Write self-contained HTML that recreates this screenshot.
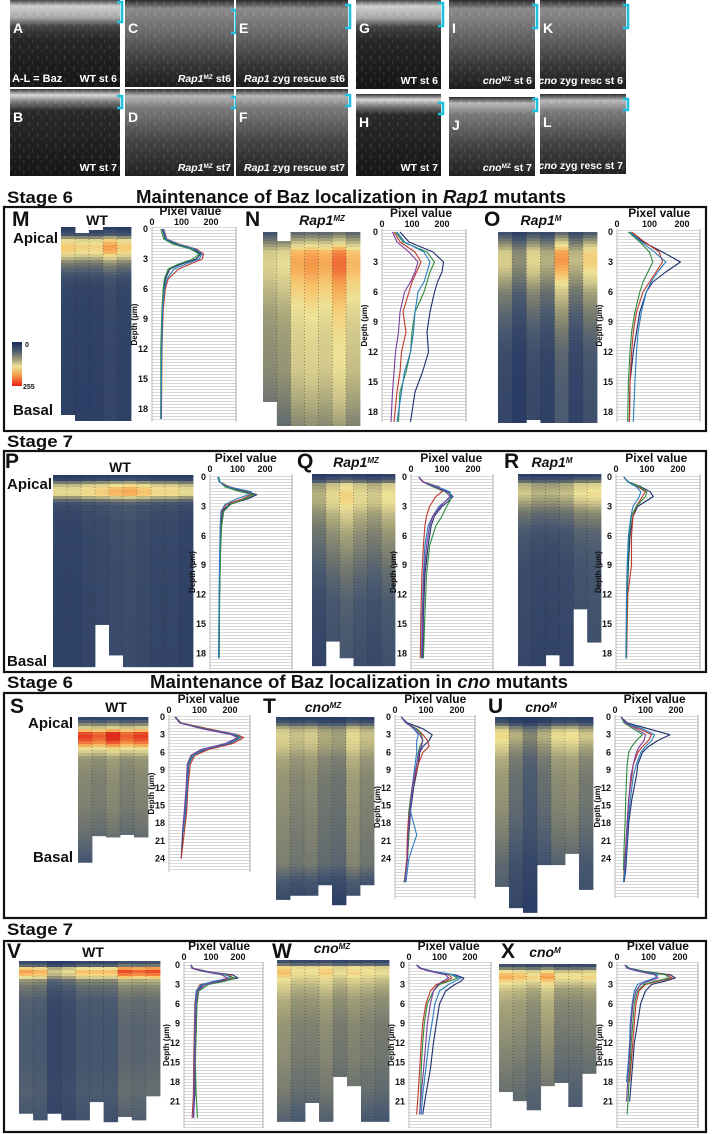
<!DOCTYPE html>
<html><head><meta charset="utf-8"><title>Baz localization figure</title>
<style>
html,body{margin:0;padding:0;background:#fff;}
svg{display:block;font-family:"Liberation Sans",Arial,sans-serif;}
</style></head>
<body>
<svg id="fig" width="712" height="1134" viewBox="0 0 712 1134" xmlns="http://www.w3.org/2000/svg">
<defs>
<linearGradient id="gWt1" x1="0" y1="0" x2="0" y2="1"><stop offset="0" stop-color="#444"/><stop offset="0.07" stop-color="#cfcfcf"/><stop offset="0.2" stop-color="#a8a8a8"/><stop offset="0.3" stop-color="#444"/><stop offset="0.45" stop-color="#272727"/><stop offset="1" stop-color="#151515"/></linearGradient>
<linearGradient id="gMut1" x1="0" y1="0" x2="0" y2="1"><stop offset="0" stop-color="#2a2a2a"/><stop offset="0.1" stop-color="#8c8c8c"/><stop offset="0.4" stop-color="#666"/><stop offset="0.7" stop-color="#3c3c3c"/><stop offset="1" stop-color="#1c1c1c"/></linearGradient>
<linearGradient id="gWt2" x1="0" y1="0" x2="0" y2="1"><stop offset="0" stop-color="#333"/><stop offset="0.07" stop-color="#d8d8d8"/><stop offset="0.15" stop-color="#777"/><stop offset="0.25" stop-color="#2a2a2a"/><stop offset="1" stop-color="#161616"/></linearGradient>
<linearGradient id="gMut2" x1="0" y1="0" x2="0" y2="1"><stop offset="0" stop-color="#2a2a2a"/><stop offset="0.08" stop-color="#b8b8b8"/><stop offset="0.22" stop-color="#7a7a7a"/><stop offset="0.6" stop-color="#444"/><stop offset="1" stop-color="#222"/></linearGradient>
<linearGradient id="gBar" x1="0" y1="0" x2="0" y2="1"><stop offset="0" stop-color="#16285a"/><stop offset="0.2" stop-color="#4a5a70"/><stop offset="0.4" stop-color="#a09e78"/><stop offset="0.55" stop-color="#ede296"/><stop offset="0.75" stop-color="#f5a04e"/><stop offset="1" stop-color="#e81e10"/></linearGradient>
<pattern id="speck" width="9" height="11" patternUnits="userSpaceOnUse"><rect x="1" y="1" width="1.5" height="4" fill="#fff" opacity="0.35"/><rect x="5" y="6" width="1.5" height="3" fill="#fff" opacity="0.25"/><rect x="7" y="2" width="1" height="2" fill="#000" opacity="0.3"/></pattern>
<pattern id="grid" width="10" height="3" patternUnits="userSpaceOnUse"><rect width="10" height="3" fill="#fff"/><rect y="2" width="10" height="0.8" fill="#cfcfcf"/></pattern>
</defs>
</svg>
<script>
// ===== Chart data =====
const M_depth=[0,1,1.5,2,2.5,3,3.5,4,5,6,8,12,19];
const M_s1=[35,45,80,140,165,150,100,60,45,40,35,32,30];
const M_s2=[40,50,90,150,175,170,130,90,55,45,38,34,32];
const M_s3=[30,40,70,130,160,140,90,55,42,38,34,30,30];
const M_s4=[38,48,85,145,170,160,115,75,50,42,36,33,31];
const M_heatDepth=[0,0.8,1.4,2,2.5,3,3.5,4,5,6,8,12,19.4];
const M_heatVal=[20,50,160,180,170,130,90,70,45,36,33,32,30];
const M_colScale=[1,0.95,0.95,1.15,1];
const M_colStart=[0,0.6,0.3,0,0];
const M_colEnd=[18.8,19.4,19.4,19.4,19.4];
const N_depth=[0,1,2,3,4,5,6,8,10,12,14,16,19];
const N_s1=[60,90,170,205,200,185,175,160,150,155,135,110,95];
const N_s2=[40,60,110,130,115,100,90,70,80,65,60,50,40];
const N_s3=[45,70,150,175,160,150,140,110,100,95,80,60,55];
const N_s4=[50,75,140,160,150,140,120,110,105,95,75,65,50];
const N_s5=[35,50,90,120,110,95,75,60,55,45,40,35,30];
const N_heatDepth=[0,1,2,3,4,5,6,8,10,12,14,17,19.4];
const N_heatVal=[60,120,190,200,195,180,170,150,140,135,130,110,90];
const N_colScale=[0.7,0.75,1,1.05,1,1.15,0.95];
const N_colStart=[0,0.9,0,0,0,0,0];
const N_colEnd=[17,19.4,19.4,19.4,19.4,19.4,19.4];
const O_depth=[0,1,2,3,4,5,6,8,10,12,15,19];
const O_s1=[40,80,140,195,150,110,90,70,60,50,40,38];
const O_s2=[45,85,130,140,120,100,80,60,50,45,40,38];
const O_s3=[35,70,100,110,95,80,70,55,45,40,35,33];
const O_s4=[40,75,115,150,125,105,90,75,65,60,55,50];
const O_heatDepth=[0,1,2,3,4,5,6,8,10,12,15,19.1];
const O_heatVal=[40,90,140,145,130,110,90,70,55,45,40,38];
const O_colScale=[0.95,0.65,1.0,0.8,1.45,0.85,1.2];
const O_colEnd=[19.1,19.1,18.8,19.1,19.1,19.1,19.1];
const P_depth=[0,0.5,1,1.5,1.8,2.2,2.8,3.5,5,8,12,18.5];
const P_s1=[30,35,60,130,170,140,70,45,40,38,35,33];
const P_s2=[30,35,70,140,150,120,60,42,38,36,34,32];
const P_s3=[32,36,55,110,160,130,75,50,42,38,35,33];
const P_s4=[28,33,65,150,140,100,55,40,37,35,33,31];
const P_heatDepth=[0,0.5,1,1.5,2,2.5,3,5,10,19.6];
const P_heatVal=[20,40,130,170,160,80,45,38,36,34];
const P_colScale=[0.9,0.9,1,1.05,1.15,1.2,1.1,1.0,1.0,0.9];
const P_colEnd=[19.6,19.6,19.6,15.3,18.4,19.6,19.6,19.6,19.6,19.6];
const Q_depth=[0,0.5,1,1.5,2,2.5,3,4,5,7,10,14,18.5];
const Q_s1=[25,40,80,120,135,120,100,75,65,55,45,40,38];
const Q_s2=[25,40,90,100,80,70,60,50,45,40,35,32,30];
const Q_s3=[25,38,70,110,130,125,115,100,80,60,50,45,40];
const Q_s4=[25,38,85,125,130,110,90,70,55,45,40,36,34];
const Q_s5=[25,38,75,115,125,110,95,70,60,50,42,38,36];
const Q_heatDepth=[0,0.7,1,2,3,4,6,8,10,13,19.6];
const Q_heatVal=[25,60,130,155,150,125,100,85,70,55,45];
const Q_colScale=[0.75,0.95,1.1,0.95,0.85,1.0];
const Q_colEnd=[19.6,17.1,18.8,19.6,19.6,19.6];
const R_depth=[0,0.5,1,1.5,2,2.5,3,4,6,9,12,18.5];
const R_s1=[25,40,80,110,120,95,70,55,45,40,36,34];
const R_s2=[25,38,70,95,85,75,65,55,50,50,38,34];
const R_s3=[25,40,75,100,95,80,65,50,42,38,35,33];
const R_s4=[25,38,65,80,75,65,55,48,40,36,34,32];
const R_heatDepth=[0,0.7,1,2,3,4,6,9,19.6];
const R_heatVal=[25,60,120,140,110,80,55,45,38];
const R_colScale=[0.95,0.85,0.85,0.9,1.1,1.15];
const R_colEnd=[19.6,19.6,18.5,19.6,13.8,17.2];
const S_depth=[0,1,2,3,3.5,4.5,5.5,6.5,8,12,16,19.5,24];
const S_s1=[20,35,110,210,235,200,120,80,65,60,55,45,40];
const S_s2=[20,40,130,225,245,210,130,85,70,62,58,50,40];
const S_s3=[22,38,120,215,230,190,110,75,62,58,52,48,null];
const S_s4=[20,36,115,220,235,195,115,80,64,60,54,46,null];
const S_s5=[20,35,110,205,225,185,105,72,60,56,50,44,null];
const S_heatDepth=[0,1,2,2.7,3.5,4.5,5.5,7,10,15,19,24.7];
const S_heatVal=[25,70,150,240,250,220,150,100,90,85,75,50];
const S_colScale=[1,0.95,1.05,0.95,1];
const S_colEnd=[24.7,20.2,20.4,20.0,20.4];
const T_depth=[0,1,2,3,4,5,6,8,12,16,20,24,28];
const T_s1=[20,40,90,120,110,90,80,75,60,50,45,40,30];
const T_s2=[20,35,70,90,105,110,90,75,55,45,40,38,30];
const T_s3=[20,35,70,85,90,80,75,70,55,45,45,40,30];
const T_s4=[20,38,60,75,70,70,70,65,55,50,70,45,35];
const T_s5=[20,35,65,80,90,85,78,70,55,48,42,40,32];
const T_heatDepth=[0,1,2,3,5,7,10,15,20,25,28,32];
const T_heatVal=[25,50,120,135,125,105,95,90,85,80,50,35];
const T_colScale=[1.05,0.95,1,0.85,0.8,1.1,0.95];
const T_colEnd=[31,30.3,30.3,28.5,31.9,30.3,28.5];
const U_depth=[0,1,2,3,4,5,6,8,10,14,18,22,26,28];
const U_s1=[20,40,110,180,140,110,90,75,70,55,45,40,35,30];
const U_s2=[20,35,80,120,110,90,75,60,55,45,40,35,30,28];
const U_s3=[20,30,60,90,70,55,45,40,38,35,33,30,28,null];
const U_s4=[20,35,90,130,120,100,85,70,60,50,42,38,32,28];
const U_s5=[20,35,70,100,95,80,70,60,52,45,40,36,30,null];
const U_heatDepth=[0,1,2,3,4,5,7,10,15,20,25,34];
const U_heatVal=[25,40,110,140,130,115,95,85,80,70,55,40];
const U_colScale=[1.2,0.85,0.65,0.85,1.1,1.15,0.95];
const U_colEnd=[28.8,32.4,33.2,25.1,25.1,23.2,29.3];
const V_depth=[0,0.5,1,1.5,2,2.5,3,4,6,10,15,20,23.5];
const V_s1=[25,30,80,180,200,140,70,50,45,45,40,40,35];
const V_s2=[25,35,90,170,180,120,60,45,40,38,36,35,30];
const V_s3=[25,30,70,150,190,150,90,55,48,45,42,45,50];
const V_s4=[25,32,85,160,170,110,65,45,42,40,38,37,34];
const V_s5=[25,30,75,140,160,130,80,50,45,42,40,38,36];
const V_heatDepth=[0,0.7,1,1.7,2.3,3,4,6,10,15,20,25];
const V_heatVal=[25,60,150,190,160,90,70,55,50,50,55,45];
const V_colScale=[1.1,1.05,0.7,0.8,1.0,1.0,1.0,1.3,1.25,1.3];
const V_colEnd=[23.5,24.5,23.5,24.5,24.5,21.7,24.8,24,24.5,20.8];
const W_depth=[0,0.5,1,1.5,2,2.5,3,4,6,9,12,16,20,23];
const W_s1=[25,40,80,150,180,170,150,120,100,90,80,70,55,45];
const W_s2=[25,35,70,130,140,120,90,70,55,45,40,35,30,25];
const W_s3=[25,35,75,140,160,130,100,80,60,50,45,40,38,35];
const W_s4=[25,38,80,145,170,150,130,100,85,75,65,55,45,40];
const W_s5=[25,36,72,120,130,110,95,80,70,60,55,48,40,35];
const W_heatDepth=[0,0.7,1,2,3,4,6,10,15,20,25];
const W_heatVal=[25,70,150,170,140,125,105,90,85,75,55];
const W_colScale=[1.1,0.95,0.95,1.05,0.9,1.0,0.95,0.9];
const W_colEnd=[24.9,24.9,22,24.9,18,19.4,24.9,24.9];
const X_depth=[0,0.5,1,1.5,2,2.5,3,4,6,9,12,15,18,21,23];
const X_s1=[25,40,90,170,185,150,110,90,75,65,55,50,45,40,null];
const X_s2=[25,35,80,160,175,130,90,70,60,55,50,45,40,null,null];
const X_s3=[25,38,85,155,165,120,85,65,55,50,45,42,38,35,32];
const X_s4=[25,35,75,130,120,90,65,55,48,42,40,36,30,null,null];
const X_s5=[25,32,70,120,130,100,75,60,50,45,42,38,34,30,null];
const X_heatDepth=[0,0.7,1.3,2,3,4,6,10,14,18,23];
const X_heatVal=[25,80,160,180,140,115,100,90,80,70,60];
const X_colScale=[1.1,1.05,0.95,1.15,0.9,0.9,0.95];
const X_colEnd=[19.7,21.1,22.5,18.8,18.3,22,16.9];

const NS='http://www.w3.org/2000/svg';
const svg=document.getElementById('fig');
function mk(tag,a,p){const e=document.createElementNS(NS,tag);for(const k in a)e.setAttribute(k,a[k]);(p||svg).appendChild(e);return e;}
function tx(s,a,p){const e=mk('text',a,p);e.textContent=s;return e;}
function interp(xs,ys,x){if(x<=xs[0])return ys[0];for(let i=1;i<xs.length;i++){if(x<=xs[i]){const t=(x-xs[i-1])/(xs[i]-xs[i-1]);return ys[i-1]+t*(ys[i]-ys[i-1]);}}return ys[ys.length-1];}
const cmStops=[0,30,55,80,105,130,155,180,205,230,255];
const cmCols=['#16285a','#2e4066','#4a5a70','#75796f','#a09e78','#cfc68a','#ede296','#f6c770','#f5a04e','#f06a35','#e02a1c'];
function hex2(h){return [parseInt(h.substr(1,2),16),parseInt(h.substr(3,2),16),parseInt(h.substr(5,2),16)];}
function cmap(v){v=Math.max(0,Math.min(255,v));let i=1;while(i<cmStops.length-1&&v>cmStops[i])i++;const t=(v-cmStops[i-1])/(cmStops[i]-cmStops[i-1]);const a=hex2(cmCols[i-1]),b=hex2(cmCols[i]);return 'rgb('+a.map((c,k)=>Math.round(c+t*(b[k]-c))).join(',')+')';}
const lineCols=['#1f2f6b','#c0392b','#2e8b3e','#2a7fc0','#7a3e9d'];

const micro=[
 {id:'A',x:10,y:0,w:110,h:87,g:'gWt1',cap:[['WT st 6',0]],br:[2,22]},
 {id:'C',x:125,y:0,w:109,h:87,g:'gMut1',cap:[['Rap1',1],['MZ',2],[' st6',0]],br:[10,33]},
 {id:'E',x:236,y:0,w:112,h:87,g:'gMut1',cap:[['Rap1',1],[' zyg rescue st6',0]],br:[5,28]},
 {id:'G',x:356,y:0,w:85,h:89,g:'gWt1',cap:[['WT st 6',0]],br:[3,26]},
 {id:'I',x:449,y:0,w:86,h:89,g:'gMut1',cap:[['cno',1],['MZ',2],[' st 6',0]],br:[5,28]},
 {id:'K',x:540,y:0,w:86,h:89,g:'gMut1',cap:[['cno',1],[' zyg resc st 6',0]],br:[5,28]},
 {id:'B',x:10,y:89,w:110,h:87,g:'gWt2',cap:[['WT st 7',0]],br:[96,108]},
 {id:'D',x:125,y:89,w:109,h:87,g:'gMut2',cap:[['Rap1',1],['MZ',2],[' st7',0]],br:[97,108]},
 {id:'F',x:236,y:89,w:112,h:87,g:'gMut2',cap:[['Rap1',1],[' zyg rescue st7',0]],br:[95,106]},
 {id:'H',x:356,y:94,w:85,h:82,g:'gWt2',cap:[['WT st 7',0]],br:[103,114]},
 {id:'J',x:449,y:97,w:86,h:79,g:'gMut2',cap:[['cno',1],['MZ',2],[' st 7',0]],br:[99,111]},
 {id:'L',x:540,y:94,w:86,h:80,g:'gMut2',cap:[['cno',1],[' zyg resc st 7',0]],br:[99,110]}
];
micro.forEach(m=>{
 const g=mk('g',{});
 
 
 mk('rect',{x:m.x,y:m.y,width:m.w,height:m.h,fill:'url(#'+m.g+')'},g);
 mk('rect',{x:m.x,y:m.y,width:m.w,height:m.h,fill:'url(#speck)',opacity:0.3},g);
 const lab=tx(m.id,{x:m.x+3,y:m.y+33,fill:'#fff','font-size':14,'font-weight':'bold'},g);
 
 
 const cap=tx('',{x:m.x+m.w-3,y:m.y+m.h-5,fill:'#fff','font-size':10.5,'font-weight':'bold','text-anchor':'end'},g);
 
 
 m.cap.forEach(c=>{const t=mk('tspan',{},cap);t.textContent=c[0];if(c[1]===1)t.setAttribute('font-style','italic');if(c[1]===2){t.setAttribute('font-size',6.5);t.setAttribute('baseline-shift','super');}});
 const bx=m.x+m.w;
 const br=mk('path',{d:'M'+(bx-3)+' '+m.br[0]+' H'+(bx+2)+' V'+m.br[1]+' H'+(bx-3),fill:'none',stroke:'#1ec0e0','stroke-width':2.6},g);
 
 
});
const baz=tx('A-L = Baz',{x:12,y:82,fill:'#fff','font-size':11,'font-weight':'bold'});



function header(s,x,y){const t=tx(s,{x:x,y:y,'font-size':17,'font-weight':'bold',fill:'#111',textLength:66,lengthAdjust:'spacingAndGlyphs'});return t;}
const h1=header('Stage 6',7,203);
const h2=header('Stage 7',7,447);
const h3=header('Stage 6',7,688);
const h4=header('Stage 7',7,935);
function title(gene,x,y,w){const t=tx('',{x:x,y:y,'font-size':18,'font-weight':'bold',fill:'#111',textLength:w,lengthAdjust:'spacingAndGlyphs'});const a=mk('tspan',{},t);a.textContent='Maintenance of Baz localization in ';const b=mk('tspan',{'font-style':'italic'},t);b.textContent=gene;const c=mk('tspan',{},t);c.textContent=' mutants';return t;}
const t1=title('Rap1',136,203,430);
const t2=title('cno',150,688,418);
[[207,431,'box-rap1-stage6'],[451,672,'box-rap1-stage7'],[693,918,'box-cno-stage6'],[941,1132,'box-cno-stage7']].forEach(b=>{
 const r=mk('rect',{x:4,y:b[0],width:702,height:b[1]-b[0],fill:'none',stroke:'#111','stroke-width':2.2});
 
 
});

const panels=[
 {id:'M',gene:[['WT',0]],lx:12,ly:226,gx:97,gy:225,hx:61,hw:70,hy:227,hk:10,cx0:152,xk:0.295,cr:236,ct:227,cb:422,y0:229,k:10,ymax:18,
  d:{depth:M_depth,series:[M_s1,M_s2,M_s3,M_s4],hd:M_heatDepth,hv:M_heatVal,cs:M_colScale,c0:M_colStart,ce:M_colEnd}},
 {id:'N',gene:[['Rap1',1],['MZ',2]],lx:245,ly:226,gx:322,gy:225,hx:263,hw:97,hy:232,hk:10,cx0:382,xk:0.3,cr:466,ct:229,cb:422,y0:232,k:10,ymax:18,
  d:{depth:N_depth,series:[N_s1,N_s2,N_s3,N_s4,N_s5],hd:N_heatDepth,hv:N_heatVal,cs:N_colScale,c0:N_colStart,ce:N_colEnd}},
 {id:'O',gene:[['Rap1',1],['M',2]],lx:484,ly:226,gx:541,gy:225,hx:498,hw:99,hy:232,hk:10,cx0:617,xk:0.325,cr:700,ct:229,cb:422,y0:232,k:10,ymax:18,
  d:{depth:O_depth,series:[O_s1,O_s2,O_s3,O_s4],hd:O_heatDepth,hv:O_heatVal,cs:O_colScale,ce:O_colEnd}},
 {id:'P',gene:[['WT',0]],lx:5,ly:468,gx:120,gy:472,hx:53,hw:140,hy:475,hk:9.8,cx0:210,xk:0.275,cr:292,ct:474,cb:670,y0:477,k:9.8,ymax:18,
  d:{depth:P_depth,series:[P_s1,P_s2,P_s3,P_s4],hd:P_heatDepth,hv:P_heatVal,cs:P_colScale,ce:P_colEnd}},
 {id:'Q',gene:[['Rap1',1],['MZ',2]],lx:297,ly:468,gx:356,gy:467,hx:312,hw:83,hy:474,hk:9.8,cx0:411,xk:0.31,cr:493,ct:474,cb:670,y0:477,k:9.8,ymax:18,
  d:{depth:Q_depth,series:[Q_s1,Q_s2,Q_s3,Q_s4,Q_s5],hd:Q_heatDepth,hv:Q_heatVal,cs:Q_colScale,ce:Q_colEnd}},
 {id:'R',gene:[['Rap1',1],['M',2]],lx:504,ly:468,gx:552,gy:467,hx:518,hw:83,hy:474,hk:9.8,cx0:616,xk:0.31,cr:700,ct:474,cb:670,y0:477,k:9.8,ymax:18,
  d:{depth:R_depth,series:[R_s1,R_s2,R_s3,R_s4],hd:R_heatDepth,hv:R_heatVal,cs:R_colScale,ce:R_colEnd}},
 {id:'S',gene:[['WT',0]],lx:10,ly:713,gx:116,gy:712,hx:78,hw:70,hy:717,hk:5.9,cx0:169,xk:0.305,cr:250,ct:715,cb:872,y0:717,k:5.9,ymax:24,
  d:{depth:S_depth,series:[S_s1,S_s2,S_s3,S_s4,S_s5],hd:S_heatDepth,hv:S_heatVal,cs:S_colScale,ce:S_colEnd}},
 {id:'T',gene:[['cno',1],['MZ',2]],lx:263,ly:713,gx:323,gy:712,hx:276,hw:98,hy:717,hk:5.9,cx0:395,xk:0.31,cr:475,ct:715,cb:899,y0:717,k:5.9,ymax:24,
  d:{depth:T_depth,series:[T_s1,T_s2,T_s3,T_s4,T_s5],hd:T_heatDepth,hv:T_heatVal,cs:T_colScale,ce:T_colEnd}},
 {id:'U',gene:[['cno',1],['M',2]],lx:488,ly:713,gx:541,gy:712,hx:495,hw:98,hy:717,hk:5.9,cx0:615,xk:0.305,cr:698,ct:715,cb:898,y0:717,k:5.9,ymax:24,
  d:{depth:U_depth,series:[U_s1,U_s2,U_s3,U_s4,U_s5],hd:U_heatDepth,hv:U_heatVal,cs:U_colScale,ce:U_colEnd}},
 {id:'V',gene:[['WT',0]],lx:7,ly:958,gx:93,gy:957,hx:19,hw:141,hy:961,hk:6.5,cx0:184,xk:0.27,cr:263,ct:962,cb:1128,y0:965,k:6.5,ymax:21,
  d:{depth:V_depth,series:[V_s1,V_s2,V_s3,V_s4,V_s5],hd:V_heatDepth,hv:V_heatVal,cs:V_colScale,ce:V_colEnd}},
 {id:'W',gene:[['cno',1],['MZ',2]],lx:272,ly:958,gx:332,gy:953,hx:277,hw:112,hy:960,hk:6.5,cx0:409,xk:0.305,cr:491,ct:962,cb:1128,y0:965,k:6.5,ymax:21,
  d:{depth:W_depth,series:[W_s1,W_s2,W_s3,W_s4,W_s5],hd:W_heatDepth,hv:W_heatVal,cs:W_colScale,ce:W_colEnd}},
 {id:'X',gene:[['cno',1],['M',2]],lx:501,ly:958,gx:545,gy:957,hx:499,hw:97,hy:964,hk:6.5,cx0:617,xk:0.315,cr:698,ct:962,cb:1128,y0:965,k:6.5,ymax:21,
  d:{depth:X_depth,series:[X_s1,X_s2,X_s3,X_s4,X_s5],hd:X_heatDepth,hv:X_heatVal,cs:X_colScale,ce:X_colEnd}}
];

panels.forEach(P=>{
 const id=P.id.toLowerCase(), D=P.d;
 const g=mk('g',{});
 
 
 const L=tx(P.id,{x:P.lx,y:P.ly,'font-size':21,'font-weight':'bold',fill:'#111'},g);
 
 
 const G=tx('',{x:P.gx,y:P.gy,'font-size':14,'font-weight':'bold',fill:'#111','text-anchor':'middle'},g);
 
 
 P.gene.forEach(c=>{const t=mk('tspan',{},G);t.textContent=c[0];if(c[1]===1)t.setAttribute('font-style','italic');if(c[1]===2){t.setAttribute('font-size',8);t.setAttribute('font-style','italic');t.setAttribute('baseline-shift','super');}});
 const hg=mk('g',{},g);
 
 
 const nc=D.cs.length, cw=P.hw/nc;
 for(let c=0;c<nc;c++){
  const x=P.hx+c*cw, ys=P.hy+(D.c0?D.c0[c]:0)*P.hk, ye=P.hy+D.ce[c]*P.hk;
  for(let y=ys;y<ye;y+=3){
   const dep=(y+1.5-P.hy)/P.hk;
   const v=interp(D.hd,D.hv,dep)*D.cs[c];
   const r=mk('rect',{x:x.toFixed(2),y:y.toFixed(2),width:(cw+0.4).toFixed(2),height:Math.min(3.4,ye-y).toFixed(2),fill:cmap(v)},hg);
   
   
  }
  if(c>0){
   const ln=mk('line',{x1:x,x2:x,y1:P.hy,y2:Math.min(ye,P.hy+D.ce[c-1]*P.hk),stroke:'#1a1a1a','stroke-width':0.7,'stroke-dasharray':'1 2',opacity:0.55},hg);
   
   
  }
 }
 const cg=mk('g',{},g);
 
 
 const bg=mk('rect',{x:P.cx0,y:P.ct,width:P.cr-P.cx0,height:P.cb-P.ct,fill:'url(#grid)'},cg);
 
 
 const rb=mk('line',{x1:P.cr,x2:P.cr,y1:P.ct,y2:P.cb,stroke:'#999','stroke-width':0.8},cg);
 
 
 const ax=mk('line',{x1:P.cx0,x2:P.cx0,y1:P.ct,y2:P.cb,stroke:'#aaa','stroke-width':0.8},cg);
 
 
 const pv=tx('Pixel value',{x:P.cx0+130*P.xk,y:P.ct-12,'font-size':12,'font-weight':'bold','text-anchor':'middle',fill:'#111'},cg);
 
 
 [0,100,200].forEach(v=>{
  const t=tx(String(v),{x:P.cx0+v*P.xk,y:P.ct-2,'font-size':9,'font-weight':'bold','text-anchor':'middle',fill:'#111'},cg);
  
  
 });
 for(let d=0;d<=P.ymax;d+=3){
  const t=tx(String(d),{x:P.cx0-4,y:P.y0+d*P.k+3,'font-size':9,'font-weight':'bold','text-anchor':'end',fill:'#111'},cg);
  
  
 }
 const ym=(P.ct+P.cb)/2;
 const yt=tx('Depth (µm)',{x:P.cx0-15,y:ym,'font-size':8,'font-weight':'bold','text-anchor':'middle',fill:'#111',transform:'rotate(-90 '+(P.cx0-15)+' '+ym+')'},cg);
 
 
 D.series.forEach((s,i)=>{
  const pts=[];
  s.forEach((v,j)=>{if(v!==null)pts.push((P.cx0+v*P.xk).toFixed(1)+','+(P.y0+D.depth[j]*P.k).toFixed(1));});
  const pl=mk('polyline',{points:pts.join(' '),fill:'none',stroke:lineCols[i%lineCols.length],'stroke-width':1.1,'stroke-linejoin':'round'},cg);
  
  
 });
});

[['Apical',13,243,'start'],['Basal',13,415,'start'],['Apical',7,489,'start'],['Basal',7,666,'start'],['Apical',73,728,'end'],['Basal',73,862,'end']].forEach(a=>{
 const t=tx(a[0],{x:a[1],y:a[2],'font-size':15,'font-weight':'bold',fill:'#111','text-anchor':a[3]});
 
 
});
const cb=mk('rect',{x:12,y:342,width:10,height:44,fill:'url(#gBar)'});


const c0=tx('0',{x:25,y:347,'font-size':7,'font-weight':'bold',fill:'#111'});


const c1=tx('255',{x:23,y:389,'font-size':7,'font-weight':'bold',fill:'#111'});


</script>
</body></html>
